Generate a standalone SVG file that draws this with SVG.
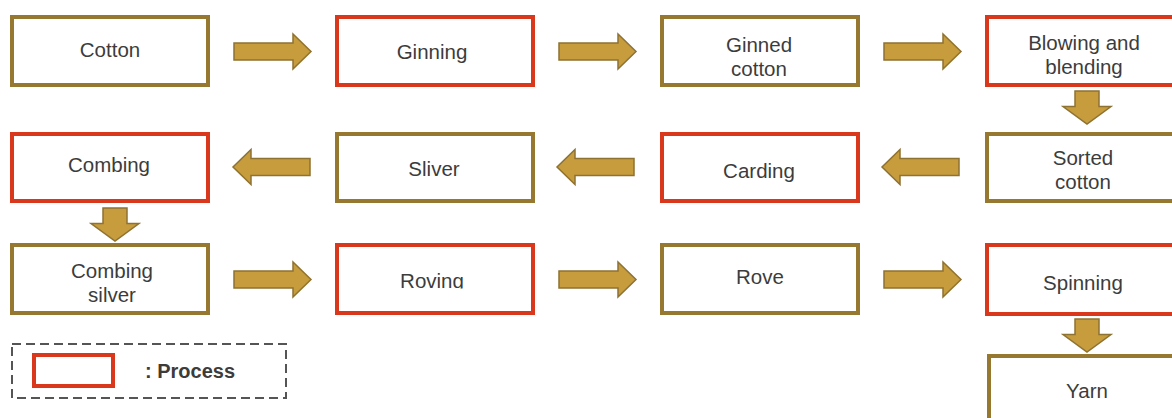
<svg xmlns="http://www.w3.org/2000/svg" xmlns:xlink="http://www.w3.org/1999/xlink" width="1172" height="418" viewBox="0 0 1172 418">
<style>
.box{fill:#fff;stroke-width:4}
.mat{stroke:#967830}
.proc{stroke:#D9381C}
.t{font-family:"Liberation Sans",Arial,sans-serif;font-size:20.5px;fill:#3c3c3c;text-anchor:middle}
.arr{fill:#C69C3C;stroke:#8E7232;stroke-width:1.5;stroke-linejoin:miter}
.leg{font-family:"Liberation Sans",Arial,sans-serif;font-size:20px;font-weight:bold;fill:#3c3c3c}
</style>
<defs>
<path id="ar" d="M0,-8.5 H59 V-17.5 L77,0 L59,17.5 V8.5 H0 Z"/>
<path id="ad" d="M-12,0 H12 V15.5 H24 L0,33 L-24,15.5 H-12 Z"/>
<clipPath id="clipRoving"><rect x="335" y="243" width="198" height="45.5"/></clipPath>
</defs>
<rect width="1172" height="418" fill="#fff"/>

<g id="connectors" class="arr">
<use xlink:href="#ar" href="#ar" transform="translate(234,51.5)"/>
<use xlink:href="#ar" href="#ar" transform="translate(559,51.5)"/>
<use xlink:href="#ar" href="#ar" transform="translate(884,51.5)"/>
<use xlink:href="#ad" href="#ad" transform="translate(1087,91)"/>
<use xlink:href="#ar" href="#ar" transform="translate(959,167) scale(-1,1)"/>
<use xlink:href="#ar" href="#ar" transform="translate(634,167) scale(-1,1)"/>
<use xlink:href="#ar" href="#ar" transform="translate(310,167) scale(-1,1)"/>
<use xlink:href="#ad" href="#ad" transform="translate(115,208)"/>
<use xlink:href="#ar" href="#ar" transform="translate(234,279.5)"/>
<use xlink:href="#ar" href="#ar" transform="translate(559,279.5)"/>
<use xlink:href="#ar" href="#ar" transform="translate(884,279.5)"/>
<use xlink:href="#ad" href="#ad" transform="translate(1087,319)"/>
</g>

<g id="cotton"><rect class="box mat" x="12" y="17" width="196" height="68"/><text class="t" x="110" y="57">Cotton</text></g>
<g id="ginning"><rect class="box proc" x="337" y="17" width="196" height="68"/><text class="t" x="432" y="59">Ginning</text></g>
<g id="ginned-cotton"><rect class="box mat" x="662" y="17" width="196" height="68"/><text class="t" x="759" y="52">Ginned</text><text class="t" x="759" y="76">cotton</text></g>
<g id="blowing-blending"><rect class="box proc" x="987" y="17" width="196" height="68"/><text class="t" x="1084" y="50">Blowing and</text><text class="t" x="1084" y="74">blending</text></g>

<g id="sorted-cotton"><rect class="box mat" x="987" y="134" width="196" height="67"/><text class="t" x="1083" y="165">Sorted</text><text class="t" x="1083" y="189">cotton</text></g>
<g id="carding"><rect class="box proc" x="662" y="134" width="196" height="67"/><text class="t" x="759" y="178">Carding</text></g>
<g id="sliver"><rect class="box mat" x="337" y="134" width="196" height="67"/><text class="t" x="434" y="176">Sliver</text></g>
<g id="combing"><rect class="box proc" x="12" y="134" width="196" height="67"/><text class="t" x="109" y="172">Combing</text></g>

<g id="combing-silver"><rect class="box mat" x="12" y="245" width="196" height="68"/><text class="t" x="112" y="278">Combing</text><text class="t" x="112" y="302">silver</text></g>
<g id="roving"><rect class="box proc" x="337" y="245" width="196" height="68"/><text class="t" x="432" y="288" clip-path="url(#clipRoving)">Roving</text></g>
<g id="rove"><rect class="box mat" x="662" y="245" width="196" height="68"/><text class="t" x="760" y="284">Rove</text></g>
<g id="spinning"><rect class="box proc" x="987" y="245" width="196" height="69"/><text class="t" x="1083" y="290">Spinning</text></g>
<g id="yarn"><rect class="box mat" x="989" y="356" width="196" height="80"/><text class="t" x="1087" y="398">Yarn</text></g>

<g id="legend">
<rect x="12" y="344" width="274" height="54" fill="none" stroke="#555" stroke-width="2" stroke-dasharray="9,5"/>
<rect x="34" y="355" width="79" height="31" fill="#fff" stroke="#D9381C" stroke-width="4"/>
<text class="leg" x="145" y="378">: Process</text>
</g>
</svg>
